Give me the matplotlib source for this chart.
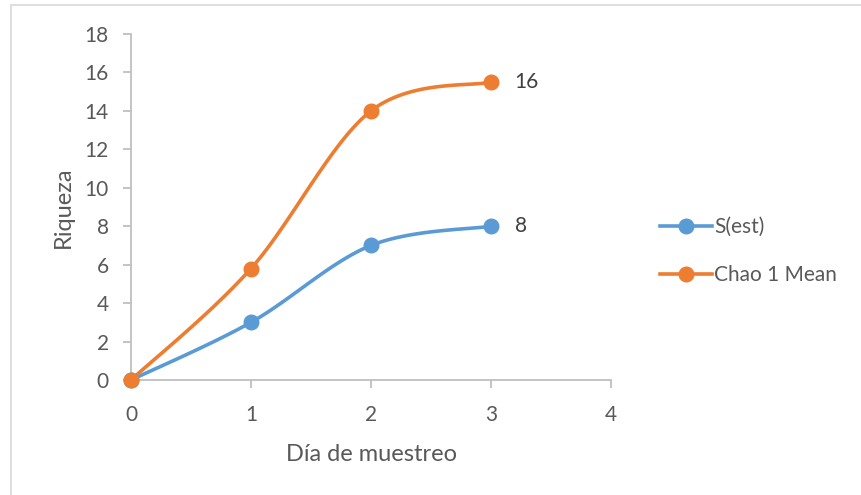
import numpy as np
import matplotlib
matplotlib.use("Agg")
import matplotlib.pyplot as plt
from matplotlib.patches import Rectangle

plt.rcParams['font.family'] = ['Lato', 'DejaVu Sans']

# Sampling days and richness estimates
dias = [0, 1, 2, 3]
s_est = [0, 3, 7, 8]
chao1_mean = [0, 5.8, 14, 15.5]
series_names = ["S(est)", "Chao 1 Mean"]
x_ticks = [0, 1, 2, 3, 4]
y_ticks = [0, 2, 4, 6, 8, 10, 12, 14, 16, 18]

BLUE = "#5B9BD5"
ORANGE = "#ED7D31"
AXIS_GREY = "#BFBFBF"
TEXT_GREY = "#595959"


def smooth(xs, ys, n=40):
    """Catmull-Rom style cubic Bezier smoothing through the points."""
    pts = np.column_stack([xs, ys]).astype(float)
    m = len(pts)
    out = [pts[0]]
    t = np.linspace(0, 1, n)[1:, None]
    for i in range(m - 1):
        p0 = pts[i - 1] if i > 0 else pts[i]
        p1 = pts[i]
        p2 = pts[i + 1]
        p3 = pts[i + 2] if i + 2 < m else pts[i + 1]
        c1 = p1 + (p2 - p0) / 6.0
        c2 = p2 - (p3 - p1) / 6.0
        seg = ((1 - t) ** 3) * p1 + 3 * ((1 - t) ** 2) * t * c1 \
            + 3 * (1 - t) * t ** 2 * c2 + t ** 3 * p2
        out.extend(seg)
    out = np.array(out)
    return out[:, 0], out[:, 1]


fig = plt.figure(figsize=(8.61, 4.95), dpi=100)

# chart frame
fig.patches.append(Rectangle((11 / 861, -0.1), 1.2, 1 - 5 / 495 + 0.1,
                             transform=fig.transFigure, fill=False,
                             edgecolor="#D9D9D9", linewidth=1.2))

ax = fig.add_axes([131 / 861, 1 - 380 / 495, 480 / 861, 346 / 495])

handles = []
for ys, color, name in [(s_est, BLUE, series_names[0]),
                        (chao1_mean, ORANGE, series_names[1])]:
    sx, sy = smooth(dias, ys)
    ax.plot(sx, sy, color=color, linewidth=2.6, solid_capstyle="round",
            zorder=3, clip_on=False)
    ax.plot(dias, ys, linestyle="none", marker="o", markersize=10.5,
            color=color, zorder=4, clip_on=False)
    h, = ax.plot([], [], color=color, linewidth=2.6, marker="o",
                 markersize=10.5, label=name)
    handles.append(h)
    ax.annotate(f"{int(ys[-1] + 0.5)}", xy=(dias[-1], ys[-1]),
                xytext=(17, 0), textcoords="offset points",
                ha="left", va="center", fontsize=15, color="#404040")

ax.set_xlim(0, 4)
ax.set_ylim(0, 18)
ax.set_xticks(x_ticks)
ax.set_yticks(y_ticks)

for side in ("top", "right"):
    ax.spines[side].set_visible(False)
for side in ("left", "bottom"):
    ax.spines[side].set_color(AXIS_GREY)
    ax.spines[side].set_linewidth(1.3)

ax.tick_params(axis="both", colors=AXIS_GREY, labelcolor=TEXT_GREY,
               labelsize=15, length=6, width=1.3, direction="out")
ax.tick_params(axis="y", pad=10)
ax.tick_params(axis="x", pad=12)

ax.set_xlabel("Día de muestreo", fontsize=17, color=TEXT_GREY, labelpad=14)
ax.set_ylabel("Riqueza", fontsize=17, color=TEXT_GREY, labelpad=8)

fig.legend(handles=handles, loc="center left",
           bbox_to_anchor=(652 / 861, 1 - 251 / 495), frameon=False,
           fontsize=15, labelcolor=TEXT_GREY, handlelength=2.5,
           handletextpad=0.1, labelspacing=1.35, borderaxespad=0)

fig.savefig("out.png", dpi=100)
